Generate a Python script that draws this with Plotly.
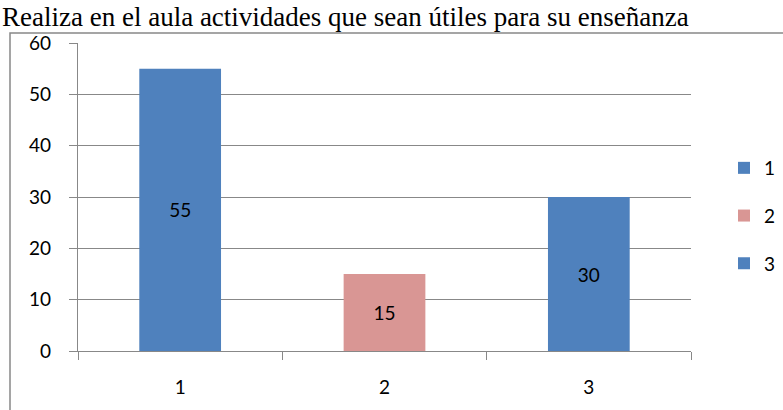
import plotly.graph_objects as go

categories = ["1", "2", "3"]
values = [55, 15, 30]
colors = ["#4F81BD", "#D99694", "#4F81BD"]
title_text = "Realiza en el aula actividades que sean útiles para su enseñanza"
y_ticks = [0, 10, 20, 30, 40, 50, 60]

W, H = 783, 410
L, R, T, B = 78, 92, 43, 59
pw, ph = W - L - R, H - T - B

def px_x(p):
    return (p - L) / pw

def px_y(p):
    return 1 + (T - p) / ph

font_main = "Lato, 'Open Sans', sans-serif"

fig = go.Figure()
for c, v, col in zip(categories, values, colors):
    fig.add_trace(go.Bar(
        x=[c], y=[v], name=c, marker=dict(color=col, line=dict(width=0)),
        width=0.4, text=[str(v)], textposition="inside",
        insidetextanchor="middle", textangle=0,
        textfont=dict(family=font_main, size=19, color="#000000"),
        legendgroup=c,
    ))

fig.update_layout(
    width=W, height=H,
    margin=dict(l=L, r=R, t=T, b=B, autoexpand=False),
    barmode="overlay",
    plot_bgcolor="white", paper_bgcolor="white",
    showlegend=True,
    legend=dict(x=px_x(781), y=px_y(149), xanchor="right", yanchor="top",
                font=dict(family=font_main, size=19, color="#000000"),
                tracegroupgap=20, bgcolor="rgba(0,0,0,0)"),
)
fig.update_xaxes(
    type="category", range=[-0.5, 2.5], tickson="boundaries",
    ticks="outside", ticklen=8, tickcolor="#888888", tickwidth=1.3,
    showgrid=False, showline=True, linecolor="#888888", linewidth=1.3,
    ticklabelstandoff=19,
    tickfont=dict(family=font_main, size=19, color="#000000"),
)
fig.update_yaxes(
    range=[0, 60], tickvals=y_ticks, ticks="outside", ticklen=8,
    tickcolor="#888888", tickwidth=1.3, showgrid=True, gridcolor="#888888",
    gridwidth=1.3, showline=True, linecolor="#888888", linewidth=1.3,
    zeroline=False, ticklabelstandoff=14,
    tickfont=dict(family=font_main, size=19, color="#000000"),
)
fig.add_shape(type="rect", xref="paper", yref="paper",
              x0=px_x(10), x1=px_x(900), y0=px_y(600), y1=px_y(33),
              line=dict(color="#888888", width=1.5), layer="below")
fig.add_annotation(text=title_text, xref="paper", yref="paper",
                   x=px_x(0), y=px_y(0), xanchor="left", yanchor="top",
                   showarrow=False,
                   font=dict(family="'Liberation Serif', 'Times New Roman', serif",
                             size=27, color="#000000"))

fig.write_html("out.html", config={"displayModeBar": False},
               post_script="document.body.style.margin='0';document.body.style.padding='0';")
